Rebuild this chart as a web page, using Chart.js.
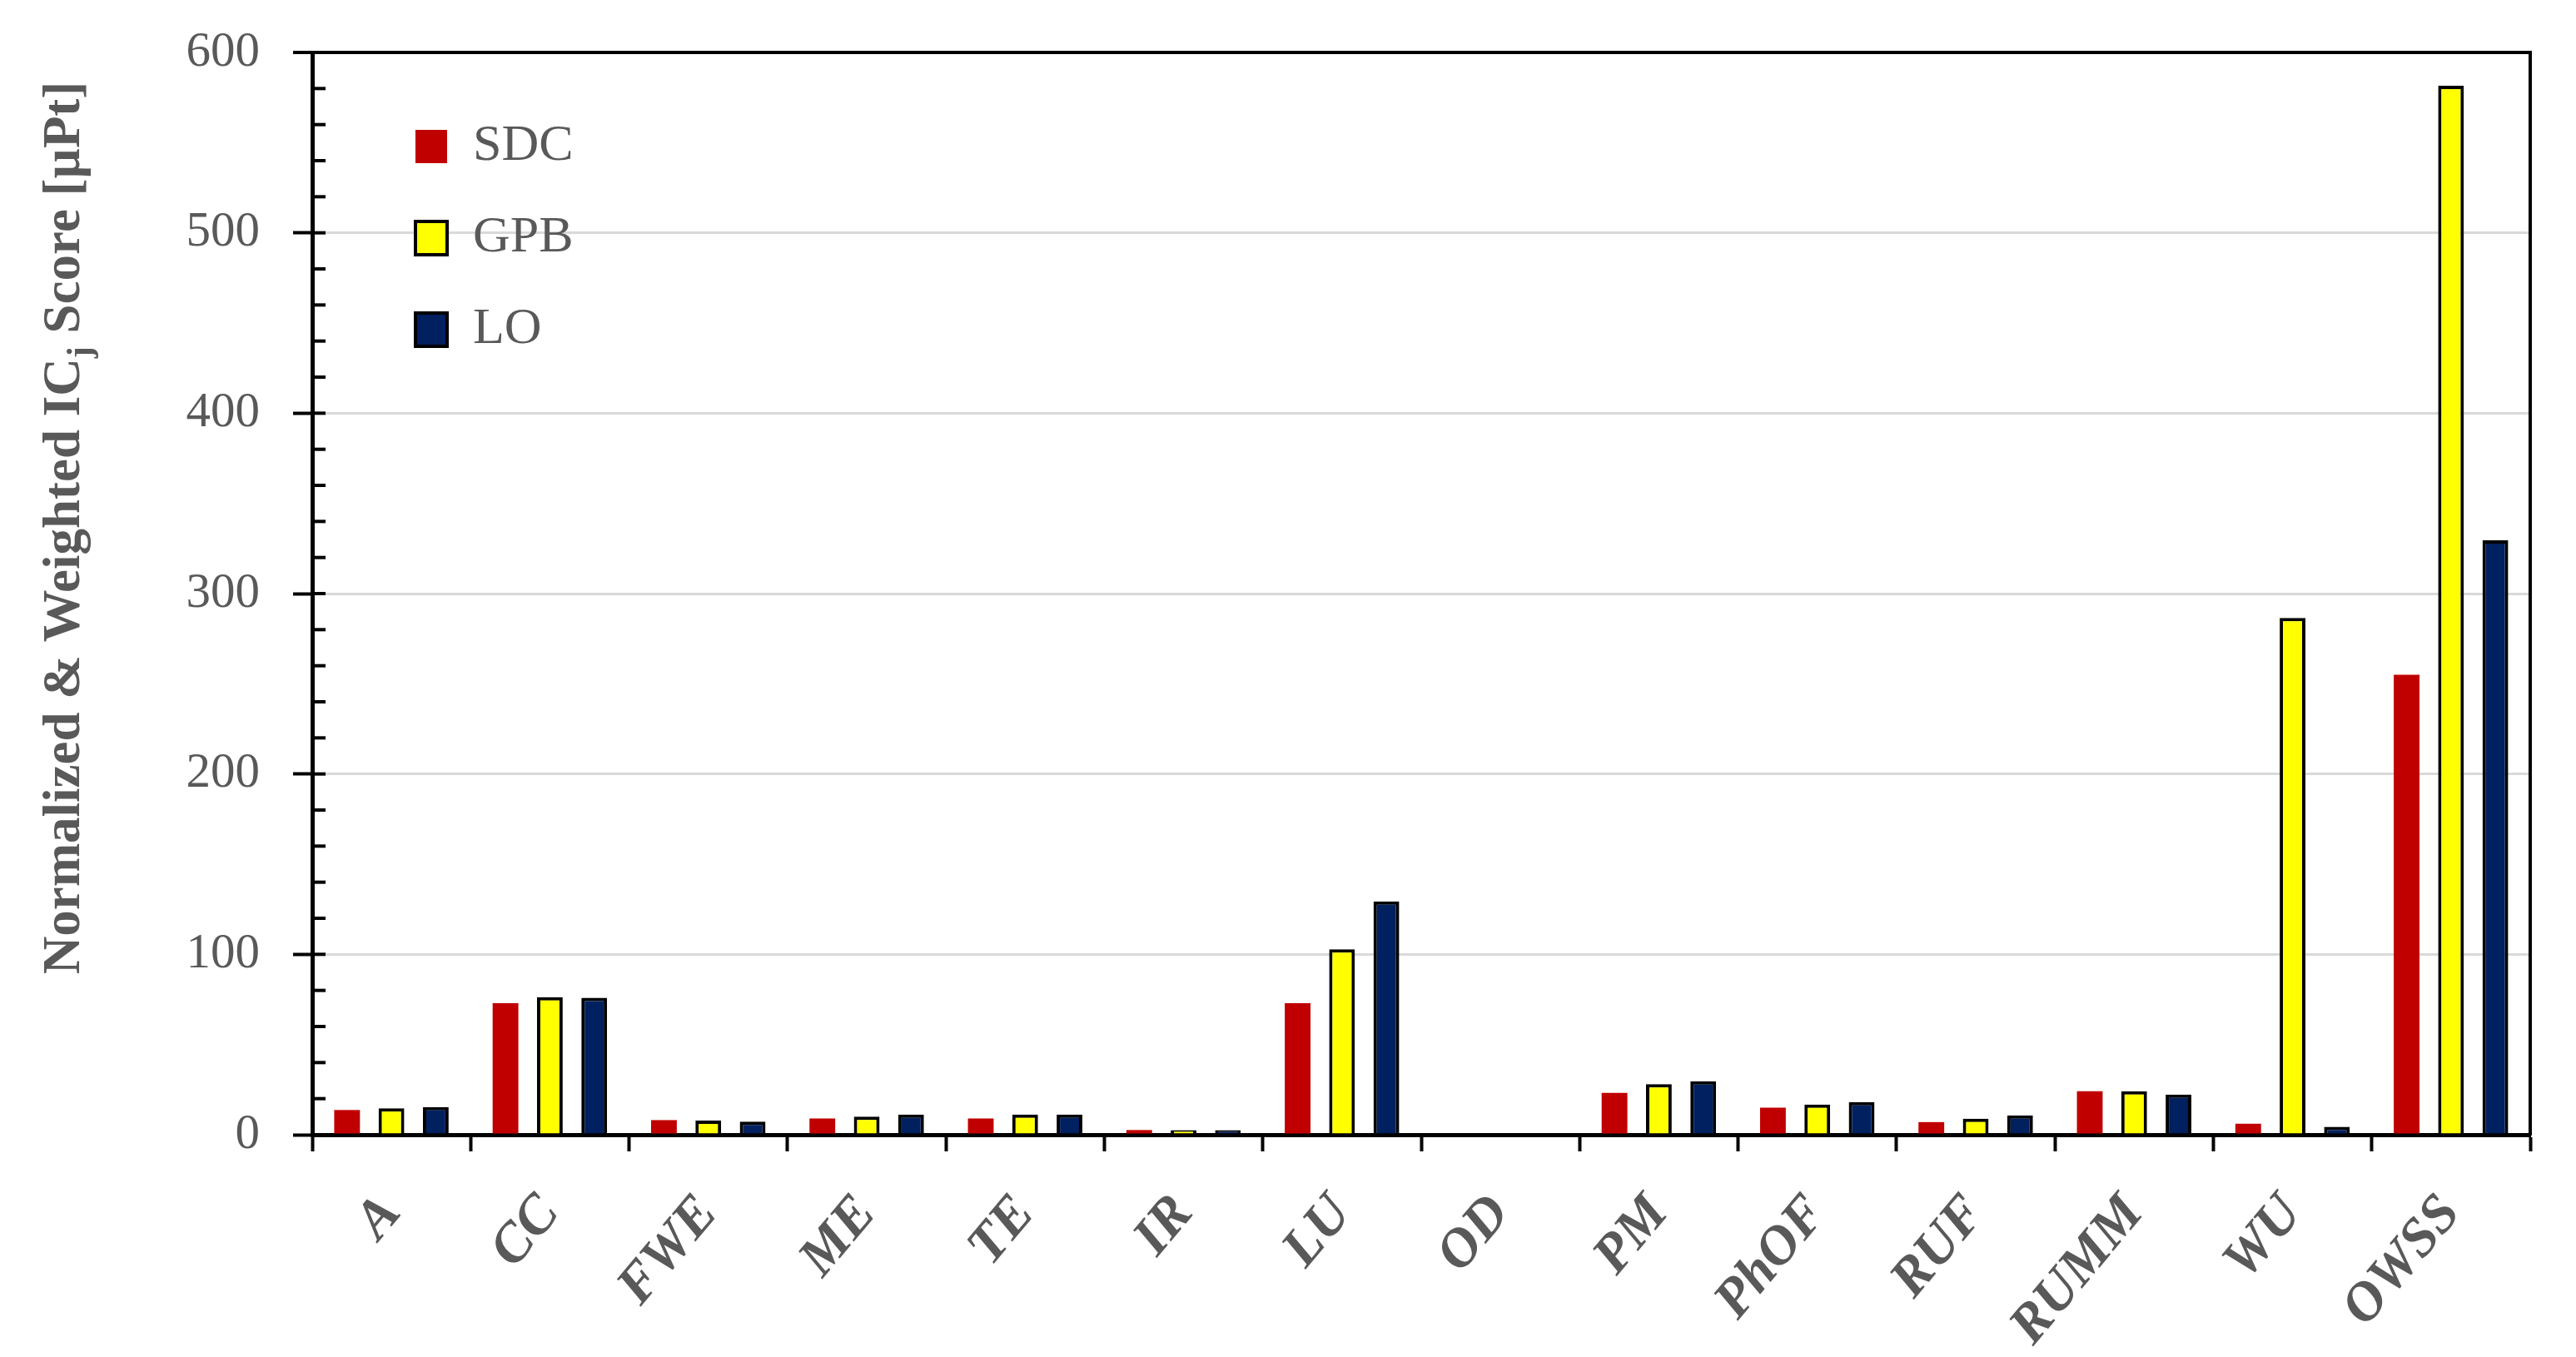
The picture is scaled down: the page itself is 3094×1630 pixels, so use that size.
<!DOCTYPE html>
<html>
<head>
<meta charset="utf-8">
<script src="https://cdn.jsdelivr.net/npm/chart.js@4/dist/chart.umd.min.js"></script>
<style>
  body { margin: 0; background: #fff; }
  canvas { display: block; }
</style>
</head>
<body>
<canvas id="grafico" width="3094" height="1630"></canvas>
<script>
const categorias = ['A', 'CC', 'FWE', 'ME', 'TE', 'IR', 'LU', 'OD', 'PM', 'PhOF', 'RUF', 'RUMM', 'WU', 'OWSS'];
const valoresSDC = [13.7, 72.9, 8.1, 9.0, 9.0, 2.6, 72.9, 0, 23.2, 15.0, 7.0, 24.1, 6.1, 255];
const valoresGPB = [14.6, 76.3, 7.8, 10.0, 11.2, 2.5, 102.8, 0, 28.0, 16.7, 8.9, 24.1, 286.5, 581.5];
const valoresLO = [15.3, 75.9, 7.3, 11.2, 11.2, 2.5, 129.3, 0, 29.6, 18.1, 10.7, 22.3, 4.4, 329.5];
const yMin = 0, yMax = 600, yStep = 100, yMinorStep = 20;

const cinza = '#595959';
const fonteSerif = '"Liberation Serif", "Times New Roman", serif';

// titulo do eixo y com subscrito (Chart.js nao faz subscrito sozinho)
const tituloY = {
  id: 'tituloY',
  afterDraw(chart) {
    const ctx = chart.ctx;
    const partes = [
      { t: 'Normalized & Weighted IC', f: 'bold 63px ' + fonteSerif, dy: 0 },
      { t: 'j', f: 'bold 42px ' + fonteSerif, dy: 14 },
      { t: ' Score [\u00b5Pt]', f: 'bold 63px ' + fonteSerif, dy: 0 }
    ];
    ctx.save();
    let total = 0;
    partes.forEach(p => { ctx.font = p.f; p.w = ctx.measureText(p.t).width; total += p.w; });
    ctx.translate(95, 634);
    ctx.rotate(-Math.PI / 2);
    ctx.fillStyle = cinza;
    ctx.textBaseline = 'alphabetic';
    ctx.textAlign = 'left';
    let x = -total / 2;
    partes.forEach(p => { ctx.font = p.f; ctx.fillText(p.t, x, p.dy); x += p.w; });
    ctx.restore();
  }
};

// ticks menores do eixo y, para dentro
const ticksMenores = {
  id: 'ticksMenores',
  afterDraw(chart) {
    const ctx = chart.ctx;
    const y = chart.scales.y;
    const left = chart.chartArea.left;
    ctx.save();
    ctx.strokeStyle = '#000';
    ctx.lineWidth = 4;
    for (let v = yMin; v <= yMax; v += yMinorStep) {
      const py = y.getPixelForValue(v);
      ctx.beginPath();
      ctx.moveTo(left, py);
      ctx.lineTo(left + 16, py);
      ctx.stroke();
    }
    ctx.restore();
  }
};

// legenda dentro da area do grafico
const posLegenda = {
  id: 'posLegenda',
  afterLayout(chart) {
    const lg = chart.legend;
    const ca = chart.chartArea;
    const w = lg.width, h = lg.height;
    lg.left = ca.left + 124 - 48;
    lg.top = ca.top + 93 - 48 - 11;
    lg.right = lg.left + w;
    lg.bottom = lg.top + h;
  }
};

const ctx = document.getElementById('grafico').getContext('2d');
new Chart(ctx, {
  type: 'bar',
  data: {
    labels: categorias,
    datasets: [
      { label: 'SDC', data: valoresSDC, backgroundColor: '#C00000', borderWidth: 0 },
      { label: 'GPB', data: valoresGPB, backgroundColor: '#FFFF00', borderColor: '#000', borderWidth: 4 },
      { label: 'LO', data: valoresLO, backgroundColor: '#002060', borderColor: '#000', borderWidth: 4 }
    ]
  },
  options: {
    responsive: false,
    animation: false,
    devicePixelRatio: 1,
    categoryPercentage: 0.84,
    barPercentage: 0.58,
    layout: { padding: { top: 63, left: 0, right: 0, bottom: 0 } },
    plugins: {
      legend: {
        position: 'chartArea',
        align: 'start',
        labels: {
          boxWidth: 38,
          boxHeight: 40,
          padding: 48,
          color: cinza,
          font: { family: fonteSerif, size: 62 }
        }
      },
      tooltip: { enabled: false },
      title: { display: false }
    },
    scales: {
      x: {
        grid: { offset: true, drawOnChartArea: false, color: 'transparent', tickColor: '#000', tickLength: 20, tickWidth: 4 },
        border: { color: '#000', width: 5 },
        ticks: {
          color: cinza,
          autoSkip: false,
          minRotation: 50,
          maxRotation: 50,
          padding: 38,
          font: { family: fonteSerif, size: 66, weight: 'bold', style: 'italic' }
        },
        afterFit(scale) { scale.height = 1630 - 1363; }
      },
      y: {
        min: yMin,
        max: yMax,
        ticks: {
          stepSize: yStep,
          color: cinza,
          padding: 40,
          font: { family: fonteSerif, size: 59 }
        },
        grid: {
          color: c => c.tick.value === yMax ? '#000' : (c.tick.value === yMin ? 'transparent' : '#d9d9d9'),
          lineWidth: c => c.tick.value === yMax ? 4 : 3,
          tickColor: '#000',
          tickLength: 23,
          tickWidth: 4
        },
        border: { color: '#000', width: 5 },
        afterFit(scale) {
          scale.width = 375;
          scale.paddingTop = 0;
          scale.paddingBottom = 0;
        }
      },
      yDir: {
        position: 'right',
        min: yMin,
        max: yMax,
        ticks: { display: false },
        grid: { display: false, drawTicks: false },
        border: { display: true, color: '#000', width: 4 },
        afterFit(scale) { scale.width = 3094 - 3039; }
      }
    }
  },
  plugins: [tituloY, ticksMenores, posLegenda]
});
</script>
</body>
</html>
